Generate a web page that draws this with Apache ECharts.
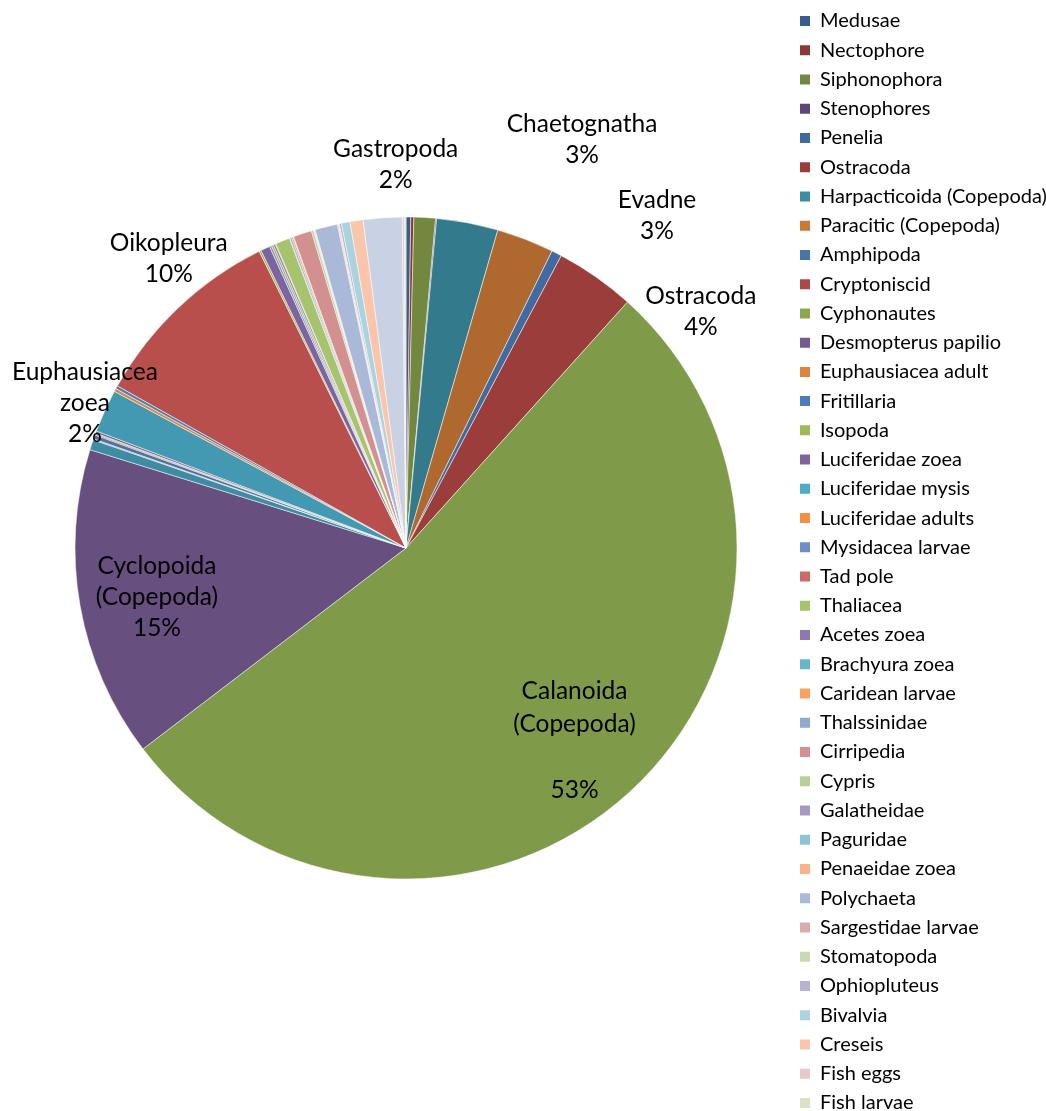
<!DOCTYPE html>
<html>
<head>
<meta charset="utf-8">
<script src="https://cdn.jsdelivr.net/npm/echarts@6/dist/echarts.min.js"></script>
<style>html,body{margin:0;padding:0;background:#fff}#c{width:1046px;height:1111px}</style>
</head>
<body>
<div id="c"></div>
<script>
// ---- data ----
const categories = [
  'Medusae','Nectophore','Siphonophora','Stenophores','Chaetognatha','Evadne','Penelia','Ostracoda',
  'Calanoida (Copepoda)','Cyclopoida (Copepoda)','Harpacticoida (Copepoda)','Paracitic (Copepoda)',
  'Amphipoda','Cryptoniscid','Cyphonautes','Desmopterus papilio','Euphausiacea zoea','Euphausiacea adult',
  'Fritillaria','Oikopleura','Isopoda','Luciferidae zoea','Luciferidae mysis','Luciferidae adults',
  'Mysidacea larvae','Tad pole','Thaliacea','Acetes zoea','Brachyura zoea','Caridean larvae','Thalssinidae',
  'Cirripedia','Cypris','Galatheidae','Paguridae','Penaeidae zoea','Polychaeta','Sargestidae larvae',
  'Stomatopoda','Ophiopluteus','Bivalvia','Creseis','Gastropoda','Fish eggs','Fish larvae'
];
const values = [
  0.23, 0.15, 1.05, 0.05, 3.0, 2.8, 0.5, 3.9,
  53.0, 15.2, 0.5, 0.05,
  0.2, 0.05, 0.05, 0.1, 2.1, 0.15,
  0.15, 9.55, 0.1, 0.45, 0.1, 0.1,
  0.1, 0.03, 0.7, 0.03, 0.08, 0.08, 0.03,
  0.9, 0.1, 0.03, 0.03, 0.03, 1.1, 0.05,
  0.05, 0.1, 0.42, 0.64, 1.89, 0.1, 0.08
];
const legendNames = [
  'Medusae','Nectophore','Siphonophora','Stenophores','Penelia','Ostracoda','Harpacticoida (Copepoda)',
  'Paracitic (Copepoda)','Amphipoda','Cryptoniscid','Cyphonautes','Desmopterus papilio','Euphausiacea adult',
  'Fritillaria','Isopoda','Luciferidae zoea','Luciferidae mysis','Luciferidae adults','Mysidacea larvae',
  'Tad pole','Thaliacea','Acetes zoea','Brachyura zoea','Caridean larvae','Thalssinidae','Cirripedia',
  'Cypris','Galatheidae','Paguridae','Penaeidae zoea','Polychaeta','Sargestidae larvae','Stomatopoda',
  'Ophiopluteus','Bivalvia','Creseis','Fish eggs','Fish larvae'
];
const labelTexts = {
  'Chaetognatha': 'Chaetognatha',
  'Evadne': 'Evadne',
  'Ostracoda': 'Ostracoda',
  'Calanoida (Copepoda)': 'Calanoida\n(Copepoda)\n',
  'Cyclopoida (Copepoda)': 'Cyclopoida\n(Copepoda)',
  'Euphausiacea zoea': 'Euphausiacea\nzoea',
  'Oikopleura': 'Oikopleura',
  'Gastropoda': 'Gastropoda'
};

// ---- styles ----
const colors = [
  '#3A5E8C','#8D3836','#71883E','#5C4776','#327A8C','#AF692F','#416BA0','#9A3D3B',
  '#7F9A48','#67507F','#3C8DA3','#C97A35','#4674AB','#AC4845','#8BA84E','#735A93',
  '#4399B1','#DD853D','#4A7EBB','#B94F4C','#9BBB59','#7F63A1','#4BACC6','#F29044',
  '#6C8FC8','#C96A67','#A7C36E','#8E78AF','#67B6CC','#F9A160','#91A8D1','#D29190',
  '#B9D097','#A899BF','#8EC3D4','#F9B38A','#ABB9D9','#DAADAD','#CAD9B0','#BBB1CF',
  '#AAD3DF','#FAC6AB','#C9D1E4','#E6C9C9','#D8E3C6'
];
const CX = 406, CY = 548, R = 331;
// [distance from centre, angle offset in degrees] for each label
const labelPlacement = {
  'Chaetognatha': [444.8, 12.6],
  'Evadne': [416.2, 15.95],
  'Ostracoda': [377.8, 16.3],
  'Calanoida (Copepoda)': [255.9, 1.5],
  'Cyclopoida (Copepoda)': [253.8, -1.05],
  'Euphausiacea zoea': [352.2, -0.2],
  'Oikopleura': [374.5, 4.2],
  'Gastropoda': [383.1, 2.5]
};
const FONT = 'Lato';

const total = values.reduce((a, b) => a + b, 0);
function midAngleDeg(i) {
  let c = 0;
  for (let k = 0; k < i; k++) c += values[k];
  return (c + values[i] / 2) / total * 360;
}

const chart = echarts.init(document.getElementById('c'), null, {renderer: 'canvas'});
chart.setOption({
  backgroundColor: '#fff',
  animation: false,
  legend: {
    orient: 'vertical',
    left: 798,
    top: 11,
    height: 1300,
    padding: 0,
    data: legendNames,
    icon: 'rect',
    itemWidth: 12,
    itemHeight: 12,
    itemGap: 9.24,
    selectedMode: false,
    textStyle: {fontFamily: FONT, fontSize: 20, lineHeight: 20, color: '#000', padding: [0, 0, 0, 4]}
  },
  series: [{
    type: 'pie',
    center: [CX, CY],
    radius: R,
    startAngle: 90,
    clockwise: true,
    avoidLabelOverlap: false,
    minAngle: 0,
    itemStyle: {borderColor: '#fff', borderWidth: 0.5},
    emphasis: {disabled: true},
    labelLine: {show: false},
    label: {
      show: false,
      position: 'center',
      fontFamily: FONT,
      fontSize: 24.5,
      lineHeight: 31,
      color: '#000',
      formatter: function (p) {
        const pct = Math.round(p.value / total * 100);
        return labelTexts[p.name] + '\n' + pct + '%';
      }
    },
    labelLayout: function (p) {
      const name = categories[p.dataIndex];
      const pl = labelPlacement[name];
      if (!pl) return {};
      const a = (midAngleDeg(p.dataIndex) + pl[1]) * Math.PI / 180;
      return {x: CX + pl[0] * Math.sin(a), y: CY - pl[0] * Math.cos(a), align: 'center', verticalAlign: 'middle'};
    },
    data: categories.map((n, i) => {
      const d = {name: n, value: values[i], itemStyle: {color: colors[i]}};
      if (labelTexts[n]) {
        d.label = {show: true};
        if (n === 'Calanoida (Copepoda)') d.label.lineHeight = 33;
      }
      return d;
    })
  }]
});
</script>
</body>
</html>
